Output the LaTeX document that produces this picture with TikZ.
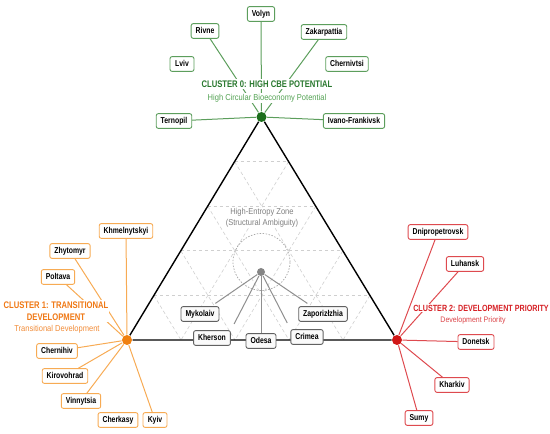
\documentclass[tikz,border=0pt]{standalone}
\usepackage[x11names, svgnames, rgb]{xcolor}
\usepackage{fontspec}
\setmainfont[FakeStretch=0.88]{Liberation Sans}
\newfontfamily\condfont[FakeStretch=0.80]{Liberation Sans}
\usetikzlibrary{positioning,shapes,calc,arrows}

\definecolor{grndot}{rgb}{0.11,0.43,0.11}
\definecolor{grnline}{rgb}{0.36,0.62,0.36}
\definecolor{grntext}{rgb}{0.16,0.47,0.18}
\definecolor{grnsub}{rgb}{0.33,0.64,0.33}
\definecolor{orgdot}{rgb}{0.94,0.50,0.06}
\definecolor{orgline}{rgb}{0.97,0.67,0.33}
\definecolor{orgtext}{rgb}{0.94,0.47,0.08}
\definecolor{reddot}{rgb}{0.82,0.09,0.09}
\definecolor{redline}{rgb}{0.87,0.29,0.31}
\definecolor{redtext}{rgb}{0.84,0.13,0.15}
\definecolor{grydot}{rgb}{0.52,0.52,0.52}
\definecolor{gryline}{rgb}{0.56,0.56,0.56}
\definecolor{grybox}{rgb}{0.38,0.38,0.38}

\tikzset{
  regbox/.style={draw, rounded corners=2bp, fill=white, text=black,
    font=\condfont\bfseries\fontsize{8.6}{9}\selectfont, text height=6.3bp, text depth=1.8bp,
    inner xsep=4.5bp, inner ysep=3.3bp, minimum width=24bp, line width=0.9bp},
  grnbox/.style={regbox, draw=grnline},
  orgbox/.style={regbox, draw=orgline},
  redbox/.style={regbox, draw=redline},
  grybox/.style={regbox, draw=grybox, fill=gray!4},
  vdot/.style={circle, inner sep=0pt, minimum size=#1},
  ttl/.style={fill=white, inner xsep=1bp, inner ysep=1.2bp,
    font=\condfont\bfseries\fontsize{9.6}{12}\selectfont},
  subttl/.style={fill=white, inner xsep=1bp, inner ysep=1.2bp,
    font=\fontsize{8.6}{10}\selectfont},
  gridline/.style={draw=gray!38, dash pattern=on 3.5bp off 2.5bp, line width=0.6bp},
}

\begin{document}
\begin{tikzpicture}[>=latex',line join=bevel]
  \pgfsetlinewidth{1bp}
  \useasboundingbox (0bp,0bp) rectangle (550bp,434bp);
  % Node: c0, c1, c2 (corners)
  \node[vdot=10bp, fill=grndot] (c0) at (261.5bp,317bp) {};
  \node[vdot=10bp, fill=orgdot] (c1) at (127bp,94bp) {};
  \node[vdot=10bp, fill=reddot] (c2) at (397bp,94bp) {};
  %% grid
  \foreach \t in {0.2,0.4,0.6,0.8}{
    \draw[gridline] ($(c0.center)!\t!(c1.center)$) -- ($(c0.center)!\t!(c2.center)$);
    \draw[gridline] ($(c1.center)!\t!(c0.center)$) -- ($(c1.center)!\t!(c2.center)$);
    \draw[gridline] ($(c2.center)!\t!(c0.center)$) -- ($(c2.center)!\t!(c1.center)$);
  }
  \draw[gray!70, dash pattern=on 1.5bp off 1.5bp, line width=0.7bp] (261.5bp,172bp) circle (28.5bp);
  % Edge: c0 -> c1 -> c2
  \draw[black, line width=1.4bp] (c0) -- (c1) -- (c2) -- (c0);
  \node[vdot=8bp, fill=grydot] (c3) at (261bp,162bp) {};
  \node[fill=white, inner sep=1bp, text=gray, align=center,
    font=\fontsize{8.6}{10.5}\selectfont] (hez) at (262bp,216bp) {High-Entropy Zone\\(Structural Ambiguity)};
  %%
  % Node: cluster 0
  \node[grnbox] (volyn) at (261bp,420bp) {Volyn};
  \node[grnbox] (rivne) at (205bp,403bp) {Rivne};
  \node[grnbox] (zakarpattia) at (324bp,402bp) {Zakarpattia};
  \node[grnbox] (lviv) at (182bp,370bp) {Lviv};
  \node[grnbox] (chernivtsi) at (347bp,370bp) {Chernivtsi};
  \node[grnbox] (ternopil) at (174bp,313bp) {Ternopil};
  \node[grnbox] (ivano) at (354bp,313bp) {Ivano-Frankivsk};
  \foreach \n in {volyn,rivne,zakarpattia,ternopil,ivano}
    \draw[grnline] (\n) -- (c0);
  \node[ttl, text=grntext] (t0) at (267bp,350bp) {CLUSTER 0: HIGH CBE POTENTIAL};
  \node[subttl, text=grnsub] (s0) at (267bp,336bp) {High Circular Bioeconomy Potential};
  %%
  % Node: cluster 1
  \node[orgbox] (khmelnytskyi) at (126bp,203bp) {Khmelnytskyi};
  \node[orgbox] (zhytomyr) at (70bp,183bp) {Zhytomyr};
  \node[orgbox] (poltava) at (58bp,157bp) {Poltava};
  \node[orgbox] (chernihiv) at (57bp,83bp) {Chernihiv};
  \node[orgbox] (kirovohrad) at (65bp,58bp) {Kirovohrad};
  \node[orgbox] (vinnytsia) at (81bp,33bp) {Vinnytsia};
  \node[orgbox] (cherkasy) at (118bp,14bp) {Cherkasy};
  \node[orgbox] (kyiv) at (155bp,14bp) {Kyiv};
  \foreach \n in {khmelnytskyi,zhytomyr,poltava,chernihiv,kirovohrad,vinnytsia,kyiv}
    \draw[orgline] (\n) -- (c1);
  \node[ttl, text=orgtext, align=center] (t1) at (56bp,123bp) {CLUSTER 1: TRANSITIONAL\\DEVELOPMENT};
  \node[subttl, text=orgtext!85, inner ysep=0.5bp] (s1) at (57bp,105bp) {Transitional Development};
  %%
  % Node: cluster 2
  \node[redbox] (dnipropetrovsk) at (438bp,202bp) {Dnipropetrovsk};
  \node[redbox] (luhansk) at (465bp,170bp) {Luhansk};
  \node[redbox] (donetsk) at (476bp,92bp) {Donetsk};
  \node[redbox] (kharkiv) at (452bp,49bp) {Kharkiv};
  \node[redbox] (sumy) at (419bp,16bp) {Sumy};
  \foreach \n in {dnipropetrovsk,luhansk,donetsk,kharkiv,sumy}
    \draw[redline] (\n) -- (c2);
  \node[ttl, text=redtext, font=\condfont\bfseries\fontsize{9}{10}\selectfont] (t2) at (481bp,126bp) {CLUSTER 2: DEVELOPMENT PRIORITY};
  \node[subttl, text=redtext!85, font=\fontsize{8}{10}\selectfont, inner ysep=0.5bp] (s2) at (473bp,114bp) {Development Priority};
  %%
  % Node: high-entropy regions
  \node[grybox] (mykolaiv) at (200bp,120bp) {Mykolaiv};
  \node[grybox] (zaporizlzhia) at (323bp,120bp) {Zaporizłzhia};
  \node[grybox] (kherson) at (212bp,96bp) {Kherson};
  \node[grybox] (odesa) at (261bp,93bp) {Odesa};
  \node[grybox] (crimea) at (307bp,97bp) {Crimea};
  % Edge: c3 -> regions
  \draw[gryline, shorten >=5bp] (c3) -- (mykolaiv);
  \draw[gryline, shorten >=7bp] (c3) -- (kherson.north east);
  \draw[gryline] (c3) -- (odesa);
  \draw[gryline, shorten >=7bp] (c3) -- (crimea.north west);
  \draw[gryline, shorten >=5bp] (c3) -- (zaporizlzhia);
\end{tikzpicture}
\end{document}
